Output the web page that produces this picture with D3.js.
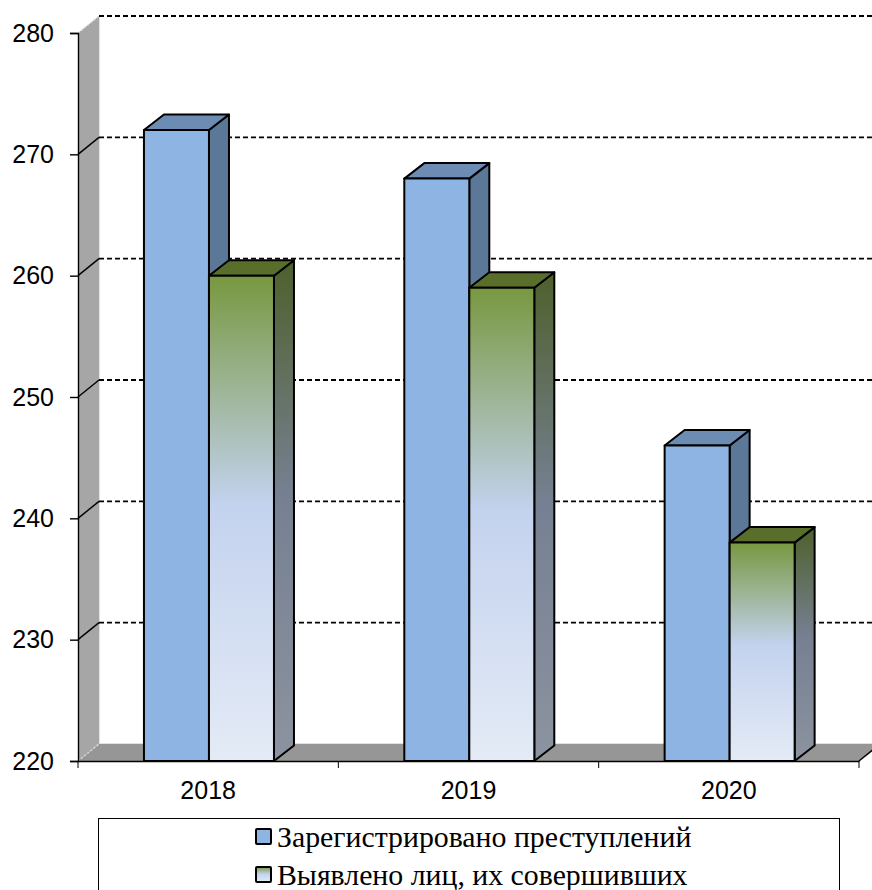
<!DOCTYPE html>
<html>
<head>
<meta charset="UTF-8">
<title>Chart</title>
<style>
html, body { margin: 0; padding: 0; background: #fff; overflow: hidden; }
svg { display: block; }
.tick-label { font: 25px "Liberation Sans", Arial, sans-serif; fill: #000; }
.legend-label { font: 29.8px "Liberation Serif", "Times New Roman", serif; fill: #000; }
</style>
</head>
<body>
<script src="https://cdn.jsdelivr.net/npm/d3@7/dist/d3.min.js"></script>
<script>
// values
var years = ["2018", "2019", "2020"];
var registered = [272, 268, 246];
var identified = [260, 259, 238];
var seriesNames = ["Зарегистрировано преступлений", "Выявлено лиц, их совершивших"];
var yTicks = [220, 230, 240, 250, 260, 270, 280];

var width = 872, height = 890;
var plotLeft = 78, plotRight = 859, plotTop = 33, plotBottom = 761;
// depth of the fake 3d box
var wallDx = 21, wallDy = 17, barDx = 20, barDy = 15.5;

var svg = d3.select("body").append("svg")
    .attr("width", width)
    .attr("height", height);

var y = d3.scaleLinear().domain([220, 280]).range([plotBottom, plotTop]);
var x = d3.scaleBand().domain(years).range([plotLeft, plotRight]);
// bars sit a pixel right of the band centre in the original
var x1 = d3.scaleBand().domain(["registered", "identified"])
    .range([x.bandwidth() / 2 - 64.2, x.bandwidth() / 2 + 65.8]);

// gradients for the second series
var defs = svg.append("defs");
var front = defs.append("linearGradient").attr("id", "greenFront")
    .attr("x1", 0).attr("y1", 0).attr("x2", 0).attr("y2", 1);
front.append("stop").attr("offset", "0%").attr("stop-color", "#789840");
front.append("stop").attr("offset", "47%").attr("stop-color", "#c3d2ee");
front.append("stop").attr("offset", "100%").attr("stop-color", "#e4ebf6");

var side = defs.append("linearGradient").attr("id", "greenSide")
    .attr("x1", 0).attr("y1", 0).attr("x2", 0).attr("y2", 1);
side.append("stop").attr("offset", "0%").attr("stop-color", "#4e602c");
side.append("stop").attr("offset", "47%").attr("stop-color", "#768092");
side.append("stop").attr("offset", "100%").attr("stop-color", "#8c93a0");

function poly(points) {
  return "M" + points.map(function(p) { return p.join(","); }).join("L") + "Z";
}

// side wall and floor
svg.append("path")
    .attr("d", poly([[plotLeft, y(280)], [plotLeft + wallDx, y(280) - wallDy], [plotLeft + wallDx, y(220) - wallDy], [plotLeft, y(220)]]))
    .attr("fill", "#a6a6a6");
svg.append("path")
    .attr("d", poly([[plotLeft, y(220)], [plotLeft + wallDx, y(220) - wallDy], [plotRight + wallDx, y(220) - wallDy], [plotRight, y(220)]]))
    .attr("fill", "#969696");
svg.append("line")
    .attr("x1", plotLeft + wallDx + 0.5).attr("x2", plotLeft + wallDx + 0.5)
    .attr("y1", y(280) - wallDy).attr("y2", y(220) - wallDy)
    .attr("stroke", "#e2e2e2").attr("stroke-width", 1);
svg.append("line")
    .attr("x1", plotLeft + wallDx).attr("x2", plotRight + wallDx)
    .attr("y1", y(220) - wallDy - 0.5).attr("y2", y(220) - wallDy - 0.5)
    .attr("stroke", "#e2e2e2").attr("stroke-width", 1);

// grid lines, back wall part and the slanted bit on the side wall
var gridTicks = yTicks.filter(function(d) { return d > 220; });
svg.selectAll("line.grid").data(gridTicks).enter().append("line")
    .attr("class", "grid")
    .attr("x1", plotLeft + wallDx).attr("x2", width)
    .attr("y1", function(d) { return y(d) - wallDy; })
    .attr("y2", function(d) { return y(d) - wallDy; })
    .attr("stroke", "#000").attr("stroke-width", 1.8)
    .attr("stroke-dasharray", "5 3");
svg.selectAll("line.slant").data(yTicks).enter().append("line")
    .attr("class", "slant")
    .attr("x1", plotLeft).attr("x2", plotLeft + wallDx)
    .attr("y1", function(d) { return y(d); })
    .attr("y2", function(d) { return y(d) - wallDy; })
    .attr("stroke", function(d) { return d == 220 || d == 280 ? "#ddd" : "#000"; })
    .attr("stroke-width", 1.4)
    .attr("stroke-dasharray", function(d) { return d == 220 || d == 280 ? "2 2" : null; });

// bars
function drawBars(values, key, frontFill, topFill, sideFill) {
  var g = svg.selectAll("g." + key).data(values).enter().append("g")
      .attr("class", key)
      .attr("stroke", "#000")
      .attr("stroke-width", 2)
      .attr("stroke-linejoin", "round");

  function x0(i) { return x(years[i]) + x1(key); }

  g.append("path")
      .attr("fill", sideFill)
      .attr("d", function(d, i) {
        var r = x0(i) + x1.bandwidth();
        return poly([[r, y(d)], [r + barDx, y(d) - barDy], [r + barDx, y(220) - barDy], [r, y(220)]]);
      });
  g.append("path")
      .attr("fill", topFill)
      .attr("d", function(d, i) {
        var l = x0(i), r = l + x1.bandwidth();
        return poly([[l, y(d)], [l + barDx, y(d) - barDy], [r + barDx, y(d) - barDy], [r, y(d)]]);
      });
  g.append("rect")
      .attr("fill", frontFill)
      .attr("x", function(d, i) { return x0(i); })
      .attr("y", function(d) { return y(d); })
      .attr("width", x1.bandwidth())
      .attr("height", function(d) { return y(220) - y(d); });
}

drawBars(registered, "registered", "#8db4e2", "#6c8cb4", "#5c7899");
drawBars(identified, "identified", "url(#greenFront)", "#5a6e2c", "url(#greenSide)");

// axes
var yAxis = d3.axisLeft(y).tickValues(yTicks).tickSize(8).tickFormat(d3.format("d"));
var gy = svg.append("g").attr("transform", "translate(" + plotLeft + ",0)").call(yAxis);
gy.select(".domain").attr("stroke", "#000").attr("stroke-width", 1.4);
gy.selectAll(".tick line").attr("stroke", "#000").attr("stroke-width", 1.4);
gy.selectAll(".tick text").attr("class", "tick-label").attr("x", -24);

var xAxis = d3.axisBottom(x).tickSize(0).tickPadding(20);
var gx = svg.append("g").attr("transform", "translate(0," + plotBottom + ")").call(xAxis);
gx.select(".domain").attr("stroke", "#000").attr("stroke-width", 1.6);
gx.selectAll(".tick text").attr("class", "tick-label");

// tick marks sit between the categories
var edges = years.map(function(d) { return x(d); }).concat([plotRight]);
gx.selectAll("line.edge").data(edges).enter().append("line")
    .attr("class", "edge")
    .attr("x1", function(d) { return d; }).attr("x2", function(d) { return d; })
    .attr("y1", 0).attr("y2", 7)
    .attr("stroke", "#000").attr("stroke-width", 1);

// right end of the floor
svg.append("line")
    .attr("x1", plotRight).attr("x2", plotRight + wallDx)
    .attr("y1", plotBottom).attr("y2", plotBottom - wallDy)
    .attr("stroke", "#000").attr("stroke-width", 1.4);

// legend, cut off by the bottom of the page
svg.append("rect")
    .attr("x", 98.5).attr("y", 818.5)
    .attr("width", 741).attr("height", 90)
    .attr("fill", "#fff").attr("stroke", "#000").attr("stroke-width", 1);

var legend = svg.selectAll("g.legend").data(seriesNames).enter().append("g")
    .attr("class", "legend")
    .attr("transform", function(d, i) { return "translate(256," + (829 + i * 38) + ")"; });
legend.append("rect")
    .attr("width", 15).attr("height", 15).attr("rx", 1)
    .attr("fill", function(d, i) { return i == 0 ? "#8db4e2" : "url(#greenFront)"; })
    .attr("stroke", "#000").attr("stroke-width", 2);
legend.append("text")
    .attr("class", "legend-label")
    .attr("x", 21).attr("y", 18)
    .text(function(d) { return d; });
</script>
</body>
</html>
